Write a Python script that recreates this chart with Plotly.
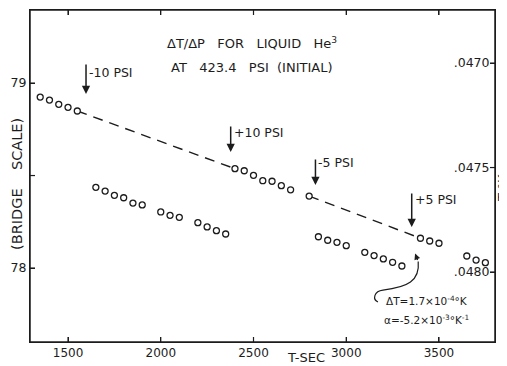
import plotly.graph_objects as go

# ---- data ----
upper_t = [1350, 1400, 1450, 1500, 1550,
           2400, 2450, 2500, 2550, 2600, 2650, 2700,
           2800,
           3400, 3450, 3500]
upper_r = [78.924, 78.908, 78.885, 78.869, 78.849,
           78.537, 78.526, 78.501, 78.472, 78.469, 78.445, 78.423,
           78.389,
           78.161, 78.146, 78.134]

lower_t = [1650, 1700, 1750, 1800, 1850, 1900, 2000, 2050, 2100, 2200, 2250, 2300, 2350,
           2850, 2900, 2950, 3000, 3100, 3150, 3200, 3250, 3300,
           3650, 3700, 3750]
lower_r = [78.436, 78.416, 78.393, 78.380, 78.351, 78.341, 78.303, 78.285, 78.274, 78.245, 78.222, 78.202, 78.184,
           78.169, 78.150, 78.139, 78.121, 78.085, 78.067, 78.049, 78.031, 78.011,
           78.065, 78.043, 78.029]

# dashed extrapolation joins (index pairs into upper series)
dash_pairs = [(4, 5), (12, 13)]

x_ticks = [1500, 2000, 2500, 3000, 3500]
y_ticks = [78, 78.5, 79]
y_ticktext = ["78", "", "79"]
t_ticks = [0.0470, 0.0475, 0.0480]
t_ticktext = [".0470", ".0475", ".0480"]

# pressure-step arrows
psi_t = [1597, 2377, 2834, 3353]
psi_tip = [78.941, 78.627, 78.449, 78.222]
psi_top = [79.108, 78.773, 78.595, 78.411]
psi_label = ["-10 PSI", "+10 PSI", "-5 PSI", "+5 PSI"]
psi_label_r = [79.059, 78.735, 78.568, 78.373]

INK = "#1c1c1c"
FONT = "DejaVu Sans"
NB = "\u00a0"

dash_x, dash_y = [], []
for a, b in dash_pairs:
    dash_x += [upper_t[a], upper_t[b], None]
    dash_y += [upper_r[a], upper_r[b], None]

fig = go.Figure()
fig.add_trace(go.Scatter(x=dash_x, y=dash_y, mode="lines",
                         line=dict(color=INK, width=1.4, dash="10px,7px"),
                         hoverinfo="skip", showlegend=False))
marker = dict(symbol="circle", size=6, color="white", line=dict(color=INK, width=1.3))
fig.add_trace(go.Scatter(x=upper_t, y=upper_r, mode="markers", marker=marker, showlegend=False))
fig.add_trace(go.Scatter(x=lower_t, y=lower_r, mode="markers", marker=marker, showlegend=False))
# invisible carrier so the temperature axis on the right is drawn
fig.add_trace(go.Scatter(x=x_ticks[:1], y=t_ticks[:1], yaxis="y2", mode="markers",
                         marker=dict(opacity=0), hoverinfo="skip", showlegend=False))

annotations = []
for t, tip, top, lab, lr in zip(psi_t, psi_tip, psi_top, psi_label, psi_label_r):
    annotations.append(dict(x=t, y=tip, ax=t, ay=top, xref="x", yref="y", axref="x", ayref="y",
                            text="", showarrow=True, arrowhead=2, arrowsize=1.1,
                            arrowwidth=1.5, arrowcolor=INK))
    annotations.append(dict(x=t + 5, y=lr, xref="x", yref="y", text=lab, showarrow=False,
                            xanchor="left", yanchor="middle",
                            font=dict(family=FONT, size=12.5, color=INK)))

annotations += [
    dict(x=0.477, y=0.9006, xref="paper", yref="paper", showarrow=False,
         xanchor="center", yanchor="middle",
         text=f"ΔT/ΔP{NB}{NB} FOR{NB}{NB} LIQUID{NB}{NB} He<sup>3</sup>",
         font=dict(family=FONT, size=13, color=INK)),
    dict(x=0.477, y=0.828, xref="paper", yref="paper", showarrow=False,
         xanchor="center", yanchor="middle",
         text=f"AT{NB}{NB} 423.4{NB}{NB} PSI{NB} (INITIAL)",
         font=dict(family=FONT, size=13, color=INK)),
    dict(x=0.762, y=0.1265, xref="paper", yref="paper", showarrow=False,
         xanchor="left", yanchor="middle",
         text="ΔT=1.7×10<sup>-4</sup>°K", font=dict(family=FONT, size=10.5, color=INK)),
    dict(x=0.757, y=0.069, xref="paper", yref="paper", showarrow=False,
         xanchor="left", yanchor="middle",
         text="α=-5.2×10<sup>-3</sup>°K<sup>-1</sup>", font=dict(family=FONT, size=10.5, color=INK)),
    dict(x=-0.028, y=0.476, xref="paper", yref="paper", showarrow=False, textangle=-90,
         xanchor="center", yanchor="middle",
         text=f"(BRIDGE{NB}{NB}{NB} SCALE)", font=dict(family=FONT, size=14.5, color=INK)),
    dict(x=0.594, y=-0.048, xref="paper", yref="paper", showarrow=False,
         xanchor="center", yanchor="middle",
         text="T-SEC", font=dict(family=FONT, size=13, color=INK)),
    dict(x=1.0172, y=0.464, xref="paper", yref="paper", showarrow=False, textangle=-90,
         xanchor="center", yanchor="middle", text="T-°K",
         font=dict(family=FONT, size=13, color=INK)),
    # head of curved pointer
    dict(x=3371, y=78.078, ax=3388, ay=78.035, xref="x", yref="y", axref="x", ayref="y",
         text="", showarrow=True, arrowhead=2, arrowsize=1, arrowwidth=1.2, arrowcolor=INK),
]

TL_X = 5 / 332   # tick length as a fraction of plot height
TL_Y = 5 / 465   # tick length as a fraction of plot width
shapes = [
    dict(type="path", xref="x", yref="y",
         path="M 3171,77.816 C 3140,77.83 3150,77.876 3198,77.881 "
              "C 3330,77.895 3398,77.93 3388,78.035",
         line=dict(color=INK, width=1.2)),
    dict(type="rect", xref="paper", yref="paper", x0=0, y0=0, x1=1, y1=1,
         line=dict(color=INK, width=1.5), layer="above"),
]
for xv in x_ticks:
    shapes.append(dict(type="line", xref="x", yref="paper", x0=xv, x1=xv, y0=0, y1=TL_X,
                       line=dict(color=INK, width=1.2)))
    shapes.append(dict(type="line", xref="x", yref="paper", x0=xv, x1=xv, y0=1, y1=1 - TL_X,
                       line=dict(color=INK, width=1.2)))
for yv in y_ticks:
    shapes.append(dict(type="line", xref="paper", yref="y", x0=0, x1=TL_Y, y0=yv, y1=yv,
                       line=dict(color=INK, width=1.2)))
for tv in t_ticks:
    shapes.append(dict(type="line", xref="paper", yref="y2", x0=1, x1=1 - TL_Y, y0=tv, y1=tv,
                       line=dict(color=INK, width=1.2)))

# the page adds an 8px body margin, so margins are reduced by 8px on the top/left
fig.update_layout(
    template="none",
    width=507, height=366, autosize=False,
    margin=dict(l=22, r=20, t=2, b=32, pad=0),
    paper_bgcolor="white", plot_bgcolor="white",
    font=dict(family=FONT, color=INK),
    annotations=annotations, shapes=shapes, showlegend=False,
    xaxis=dict(range=[1295, 3802], tickvals=x_ticks, ticks="inside", ticklen=5, tickwidth=1,
               tickcolor=INK, showline=True, linecolor=INK, linewidth=1, mirror="ticks",
               showgrid=False, zeroline=False, automargin=False,
               tickfont=dict(size=12, color=INK)),
    yaxis=dict(range=[77.6, 79.395], tickvals=y_ticks, ticktext=y_ticktext, ticks="inside",
               ticklen=5, tickwidth=1, tickcolor=INK, showline=True, linecolor=INK,
               linewidth=1, showgrid=False, zeroline=False, automargin=False,
               tickfont=dict(size=12.5, color=INK)),
    yaxis2=dict(overlaying="y", side="right", range=[0.048335, 0.046746], tickvals=t_ticks,
                ticktext=t_ticktext, ticks="inside", ticklen=5, tickwidth=1, tickcolor=INK,
                ticklabelposition="inside", showline=True, linecolor=INK, linewidth=1,
                showgrid=False, zeroline=False, automargin=False,
                tickfont=dict(size=12.5, color=INK)),
)

fig.write_html("out.html")
